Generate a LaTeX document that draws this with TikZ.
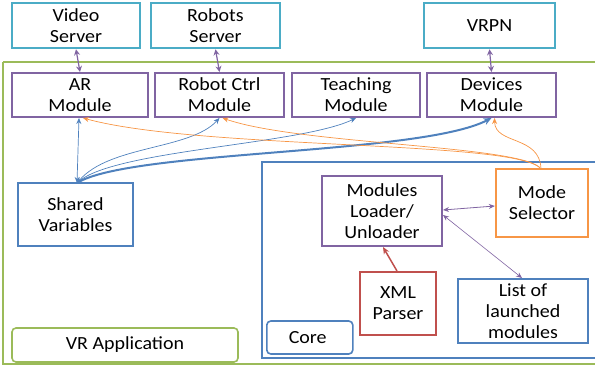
\documentclass[tikz,border=0pt]{standalone}
\usepackage{fontspec}
\setmainfont{Carlito}[FakeStretch=1.08]
\usetikzlibrary{arrows.meta}
\definecolor{cyanC}{HTML}{4BACC6}
\definecolor{purpleC}{HTML}{8064A2}
\definecolor{blueC}{HTML}{4F81BD}
\definecolor{greenC}{HTML}{9BBB59}
\definecolor{orangeC}{HTML}{F79646}
\definecolor{redC}{HTML}{C0504D}
\begin{document}
\begin{tikzpicture}[x=1pt,y=-1pt,
  box/.style={draw=#1,line width=2pt,fill=white,align=center,inner sep=0pt,
    font=\fontsize{18.5}{21}\selectfont},
  lbl/.style={draw=#1,line width=1.6pt,rounded corners=4pt,fill=white,inner sep=0pt,
    font=\fontsize{18.5}{21}\selectfont},
  darr/.style={draw=#1,{Stealth[length=6pt,width=6pt,open]}-{Stealth[length=6pt,width=6pt,open]},line width=1.2pt}]
\useasboundingbox (0,0) rectangle (595,367);
% outer VR application box
\draw[greenC,line width=2pt] (3,62) -- (600,62);
\draw[greenC,line width=2pt] (600,364) -- (3,364) -- (3,62);
% servers
\node[box=cyanC,line width=2.6pt,minimum width=128pt,minimum height=45pt] (video) at (76,25.5) {Video\\Server};
\node[box=cyanC,line width=2.6pt,minimum width=129pt,minimum height=45pt] (robots) at (215.5,25.5) {Robots\\Server};
\node[box=cyanC,line width=2.6pt,minimum width=131pt,minimum height=45pt] (vrpn) at (489.5,25.5) {VRPN};
% modules
\node[box=purpleC,minimum width=136pt,minimum height=44pt] (ar) at (80,95) {AR\\Module};
\node[box=purpleC,minimum width=129pt,minimum height=44pt] (rc) at (219.5,95) {Robot Ctrl\\Module};
\node[box=purpleC,minimum width=128pt,minimum height=44pt] (teach) at (356,95) {Teaching\\Module};
\node[box=purpleC,minimum width=129pt,minimum height=44pt] (dev) at (491.5,95) {Devices\\Module};
% shared variables
\node[box=blueC,minimum width=115pt,minimum height=63pt] (shared) at (75.5,214.5) {Shared\\Variables};
% core
\draw[blueC,line width=2pt] (262,162) rectangle (596,358);
\node[box=purpleC,minimum width=120pt,minimum height=70pt] (loader) at (382,211) {Modules\\Loader/\\Unloader};
\node[box=orangeC,line width=2.4pt,minimum width=92pt,minimum height=68pt] (mode) at (542,203) {Mode\\Selector};
\node[box=redC,minimum width=76pt,minimum height=63pt] (xml) at (398,303.5) {XML\\Parser};
\node[box=blueC,minimum width=130pt,minimum height=64pt] (list) at (523,311) {List of\\launched\\modules};
\node[lbl=blueC,minimum width=86pt,minimum height=33pt,anchor=west,text width=80pt,align=left] (core) at (266,337.5) {\hspace*{19pt}Core};
\node[lbl=greenC,minimum width=226pt,minimum height=34pt] (vrapp) at (125,345) {VR Application};
% server links
\draw[darr=purpleC] (video.south) -- (ar.north);
\draw[darr=purpleC] (robots.south) -- (rc.north);
\draw[darr=purpleC] (vrpn.south) -- (dev.north);
% shared variable links
\coordinate (sv) at (77,183);
\draw[blueC,line width=0.7pt,{Stealth[length=6pt,width=5pt]}-{Stealth[length=6pt,width=5pt]}] (sv) -- ([xshift=-1pt]ar.south);
\draw[blueC,line width=0.7pt,{Stealth[length=6pt,width=5pt]}-{Stealth[length=6pt,width=5pt]}] (sv) .. controls (110,145) and (190,150) .. (rc.south);
\draw[blueC,line width=0.7pt,-{Stealth[length=6pt,width=5pt]}] (sv) .. controls (110,150) and (300,145) .. (teach.south);
\draw[blueC,line width=2pt,-{Stealth[length=8pt,width=7pt]}] (sv) .. controls (130,150) and (420,155) .. (dev.south);
% orange mode selector links
\coordinate (ms) at (541,169);
\draw[orangeC,line width=0.7pt,-{Stealth[length=6pt,width=5pt]}] (ms) .. controls (520,140) and (200,150) .. ([xshift=3pt]ar.south);
\draw[orangeC,line width=0.7pt,-{Stealth[length=6pt,width=5pt]}] (ms) .. controls (525,145) and (300,145) .. ([xshift=3pt]rc.south);
\draw[orangeC,line width=0.7pt,-{Stealth[length=6pt,width=5pt]}] (ms) .. controls (540,135) and (495,145) .. ([xshift=3pt]dev.south);
% core links
\draw[purpleC,line width=0.8pt,{Stealth[length=6pt,width=5pt]}-{Stealth[length=6pt,width=5pt]}] ([yshift=1pt]loader.east) -- ([yshift=-3pt]mode.west);
\draw[purpleC,line width=0.6pt,{Stealth[length=6pt,width=5pt]}-{Stealth[length=6pt,width=5pt]}] ([yshift=-4pt]loader.east) -- ([xshift=-1pt]list.north);
\draw[redC,line width=1.5pt,-{Stealth[length=7pt,width=6pt]}] ([xshift=-1pt]xml.north) -- ([xshift=1pt]loader.south);
\end{tikzpicture}
\end{document}
